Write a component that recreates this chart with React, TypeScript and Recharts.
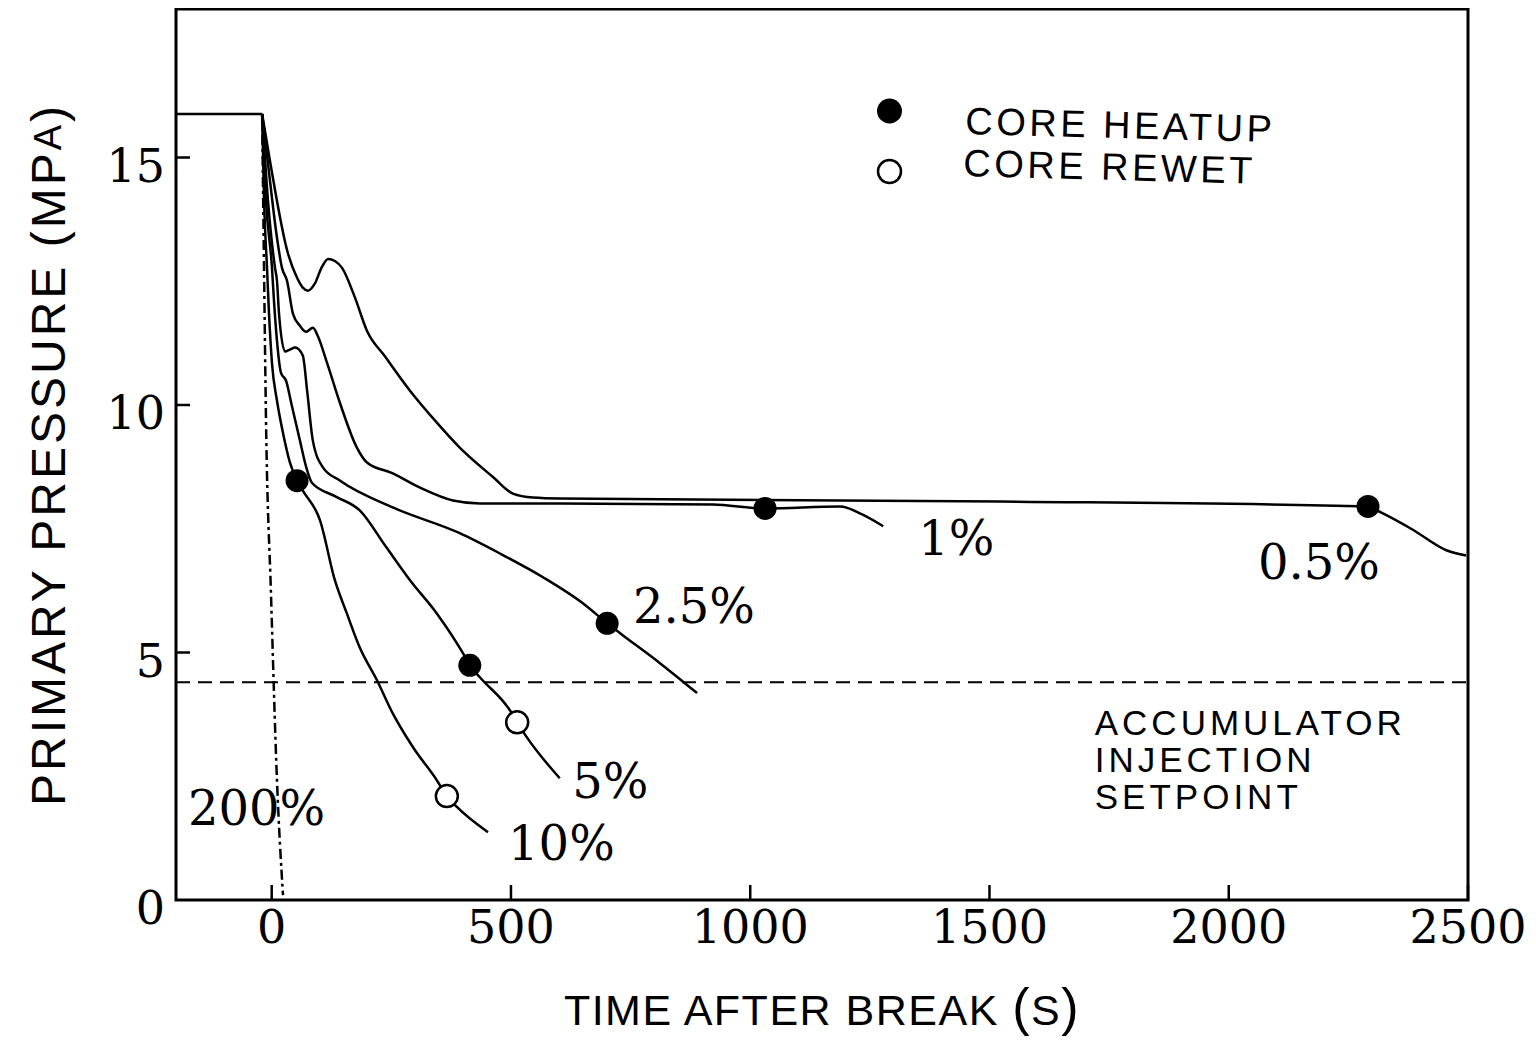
import React from 'react';
import {
  ComposedChart,
  Line,
  Scatter,
  XAxis,
  YAxis,
  Label,
  Legend,
  ReferenceArea,
  ReferenceLine,
  ReferenceDot,
} from 'recharts';

// primary pressure (MPa) against time after break (s)
const xTicks = [0, 500, 1000, 1500, 2000, 2500];
const yTicks = [0, 5, 10, 15];
const sideTicks = [5, 10, 15];

const steadyState = [
  { t: -200, p: 15.88 },
  { t: -20, p: 15.88 },
];

const break200 = [
  { t: -20, p: 15.88 },
  { t: -16, p: 12.71 },
  { t: -11.9, p: 9.69 },
  { t: -1.5, p: 6.19 },
  { t: 11, p: 2.42 },
  { t: 23.6, p: 0.1 },
];

const break10 = [
  { t: -20, p: 15.88 },
  { t: -16, p: 14.12 },
  { t: -9.8, p: 12.77 },
  { t: -5.6, p: 11.84 },
  { t: 0.6, p: 10.84 },
  { t: 11, p: 10.09 },
  { t: 25.7, p: 9.34 },
  { t: 38, p: 8.84 },
  { t: 53, p: 8.47 },
  { t: 65, p: 8.27 },
  { t: 101, p: 7.67 },
  { t: 132, p: 6.46 },
  { t: 157, p: 5.79 },
  { t: 184, p: 5.1 },
  { t: 220, p: 4.44 },
  { t: 253, p: 3.77 },
  { t: 295, p: 3.09 },
  { t: 345, p: 2.42 },
  { t: 366, p: 2.1 },
  { t: 387, p: 1.88 },
  { t: 452, p: 1.37 },
];

const break5 = [
  { t: -20, p: 15.88 },
  { t: -11.9, p: 14.12 },
  { t: 0.6, p: 12.77 },
  { t: 4.8, p: 12.1 },
  { t: 11, p: 11.3 },
  { t: 19.4, p: 10.65 },
  { t: 30, p: 10.49 },
  { t: 42, p: 9.99 },
  { t: 59, p: 9.28 },
  { t: 72, p: 8.75 },
  { t: 84, p: 8.43 },
  { t: 134, p: 8.15 },
  { t: 184, p: 7.87 },
  { t: 237, p: 7.16 },
  { t: 289, p: 6.46 },
  { t: 345, p: 5.79 },
  { t: 400, p: 4.98 },
  { t: 414, p: 4.74 },
  { t: 435, p: 4.5 },
  { t: 498, p: 3.83 },
  { t: 513, p: 3.59 },
  { t: 533, p: 3.29 },
  { t: 602, p: 2.46 },
];

const break25 = [
  { t: -20, p: 15.88 },
  { t: -7.7, p: 14.12 },
  { t: 6.9, p: 12.77 },
  { t: 11, p: 12.51 },
  { t: 15.3, p: 11.84 },
  { t: 28, p: 11.08 },
  { t: 38, p: 11.12 },
  { t: 49, p: 11.16 },
  { t: 65, p: 11.0 },
  { t: 74, p: 10.29 },
  { t: 86, p: 9.28 },
  { t: 107, p: 8.74 },
  { t: 143, p: 8.47 },
  { t: 253, p: 7.93 },
  { t: 393, p: 7.41 },
  { t: 477, p: 7.0 },
  { t: 567, p: 6.52 },
  { t: 651, p: 5.99 },
  { t: 701, p: 5.59 },
  { t: 728, p: 5.39 },
  { t: 812, p: 4.78 },
  { t: 889, p: 4.18 },
];

const break1 = [
  { t: -20, p: 15.88 },
  { t: -3.6, p: 14.53 },
  { t: 9, p: 13.52 },
  { t: 21.5, p: 12.77 },
  { t: 32, p: 12.51 },
  { t: 44.5, p: 11.84 },
  { t: 59, p: 11.6 },
  { t: 72, p: 11.48 },
  { t: 86, p: 11.56 },
  { t: 97, p: 11.38 },
  { t: 116, p: 10.84 },
  { t: 143, p: 10.03 },
  { t: 178, p: 9.14 },
  { t: 199, p: 8.84 },
  { t: 253, p: 8.62 },
  { t: 310, p: 8.33 },
  { t: 379, p: 8.07 },
  { t: 435, p: 8.01 },
  { t: 602, p: 8.01 },
  { t: 922, p: 7.99 },
  { t: 1031, p: 7.91 },
  { t: 1188, p: 7.95 },
  { t: 1234, p: 7.79 },
  { t: 1278, p: 7.55 },
];

const break05 = [
  { t: -20, p: 15.88 },
  { t: -3.6, p: 14.93 },
  { t: 34, p: 13.06 },
  { t: 53, p: 12.57 },
  { t: 65, p: 12.37 },
  { t: 76, p: 12.31 },
  { t: 90, p: 12.45 },
  { t: 105, p: 12.79 },
  { t: 118, p: 12.95 },
  { t: 132, p: 12.91 },
  { t: 147, p: 12.77 },
  { t: 174, p: 12.17 },
  { t: 199, p: 11.5 },
  { t: 237, p: 10.98 },
  { t: 289, p: 10.29 },
  { t: 341, p: 9.69 },
  { t: 393, p: 9.14 },
  { t: 463, p: 8.54 },
  { t: 504, p: 8.21 },
  { t: 546, p: 8.13 },
  { t: 602, p: 8.11 },
  { t: 1522, p: 8.05 },
  { t: 2291, p: 7.95 },
  { t: 2318, p: 7.83 },
  { t: 2383, p: 7.49 },
  { t: 2456, p: 7.06 },
  { t: 2496, p: 6.96 },
];

const coreHeatup = [
  { t: 53, p: 8.47 },
  { t: 414, p: 4.74 },
  { t: 701, p: 5.59 },
  { t: 1031, p: 7.91 },
  { t: 2291, p: 7.95 },
];

const coreRewet = [
  { t: 366, p: 2.1 },
  { t: 513, p: 3.59 },
];

const accumulatorSetpoint = 4.4;

const curveNotes = [
  { text: '200%', t: -175, p: 1.52 },
  { text: '10%', t: 494, p: 0.81 },
  { text: '5%', t: 628, p: 2.06 },
  { text: '2.5%', t: 755, p: 5.59 },
  { text: '1%', t: 1351, p: 6.97 },
  { text: '0.5%', t: 2061, p: 6.48 },
];

const setpointNote = { lines: ['ACCUMULATOR', 'INJECTION', 'SETPOINT'], t: 1720, p: 3.33 };

const SERIF = '"DejaVu Serif", serif';
const SANS = '"Liberation Sans", Arial, sans-serif';

const BottomTick = (props: any) => {
  const { x, y, payload } = props;
  return (
    <g>
      <line x1={x} y1={y} x2={x} y2={y - 15} stroke="#000" strokeWidth={2.5} />
      <text x={x} y={y + 43} textAnchor="middle" fontFamily={SERIF} fontSize={46} fill="#000">
        {payload.value}
      </text>
    </g>
  );
};

const LeftTick = (props: any) => {
  const { x, y, payload } = props;
  return (
    <g>
      {payload.value !== 0 && <line x1={x} y1={y} x2={x + 14} y2={y} stroke="#000" strokeWidth={2.5} />}
      <text x={x - 11} y={y + 24} textAnchor="end" fontFamily={SERIF} fontSize={46} fill="#000">
        {payload.value}
      </text>
    </g>
  );
};

const RightTick = (props: any) => {
  const { x, y } = props;
  return <line x1={x} y1={y} x2={x - 14} y2={y} stroke="#000" strokeWidth={2.5} />;
};

const HeatupDot = (props: any) => <circle cx={props.cx} cy={props.cy} r={11.5} fill="#000" />;
const RewetDot = (props: any) => (
  <circle cx={props.cx} cy={props.cy} r={11} fill="#fff" stroke="#000" strokeWidth={2.5} />
);

const YTitle = (props: any) => {
  const vb = props.viewBox || { x: 0, y: 0, width: 168, height: 890 };
  const cx = vb.x + 40;
  const cy = vb.y + vb.height / 2;
  return (
    <text
      x={cx}
      y={cy}
      transform={`rotate(-90 ${cx} ${cy})`}
      textAnchor="middle"
      dominantBaseline="central"
      fontFamily={SANS}
      fontSize={48}
      letterSpacing={3}
      fill="#000"
    >
      PRIMARY PRESSURE (MP<tspan fontSize={38}>A</tspan>)
    </text>
  );
};

const XTitle = (props: any) => {
  const vb = props.viewBox || { x: 168, y: 892, width: 1292, height: 140 };
  return (
    <text
      x={vb.x + vb.width / 2}
      y={vb.y + 125}
      textAnchor="middle"
      fontFamily={SANS}
      fontSize={43}
      letterSpacing={1.5}
      fill="#000"
    >
      TIME AFTER BREAK <tspan fontSize={52}>(</tspan>S<tspan fontSize={52}>)</tspan>
    </text>
  );
};

const noteLabel = (text: string) => (props: any) => {
  const vb = props.viewBox;
  if (!vb) return null;
  return (
    <text x={vb.x} y={vb.y} fontFamily={SERIF} fontSize={48} fill="#000">
      {text}
    </text>
  );
};

// one text element per line so the three lines stay tight but separate
const setpointLabel = (props: any) => {
  const vb = props.viewBox;
  if (!vb) return null;
  return (
    <g>
      {setpointNote.lines.map((s, i) => (
        <text
          key={s}
          x={vb.x}
          y={vb.y + i * 37}
          fontFamily={SANS}
          fontSize={35}
          letterSpacing={4}
          fill="#000"
        >
          {s}
        </text>
      ))}
    </g>
  );
};

const LegendBox = (props: any) => {
  const items = (props.payload || []).filter((e: any) => e.type !== 'none');
  return (
    <svg width={440} height={110} style={{ overflow: 'visible' }}>
      {items.map((e: any, i: number) => {
        const filled = e.color === '#000';
        const cy = 23 + i * 60.5;
        const tx = 97 - i * 2;
        const ty = 46 + i * 42;
        return (
          <g key={e.value}>
            {filled ? (
              <circle cx={21.5} cy={cy} r={12.5} fill="#000" />
            ) : (
              <circle cx={21.5} cy={cy} r={11.5} fill="#fff" stroke="#000" strokeWidth={2.5} />
            )}
            <text
              x={tx}
              y={ty}
              transform={`rotate(1.5 ${tx} ${ty})`}
              fontFamily={SANS}
              fontSize={38}
              letterSpacing={3.5}
              fill="#000"
            >
              {e.value}
            </text>
          </g>
        );
      })}
    </svg>
  );
};

const curve = { stroke: '#000', strokeWidth: 2.5, dot: false, isAnimationActive: false, legendType: 'none' as const };

export default function App() {
  return (
    <div style={{ width: 1520, height: 1032 }}>
      <ComposedChart width={1520} height={1032} margin={{ top: 1, right: 0, bottom: 0, left: 0 }}>
        <XAxis
          dataKey="t"
          type="number"
          domain={[-200, 2500]}
          ticks={xTicks}
          interval={0}
          allowDataOverflow
          axisLine={false}
          tickLine={false}
          tickSize={0}
          tickMargin={0}
          height={140}
          tick={BottomTick}
        >
          <Label content={XTitle} />
        </XAxis>
        <YAxis
          dataKey="p"
          type="number"
          domain={[0, 18]}
          ticks={yTicks}
          interval={0}
          allowDataOverflow
          axisLine={false}
          tickLine={false}
          tickSize={0}
          tickMargin={0}
          width={168}
          tick={LeftTick}
        >
          <Label content={YTitle} />
        </YAxis>
        <YAxis
          yAxisId="right"
          orientation="right"
          dataKey="p"
          type="number"
          domain={[0, 18]}
          ticks={sideTicks}
          interval={0}
          axisLine={false}
          tickLine={false}
          tickSize={0}
          tickMargin={0}
          width={60}
          tick={RightTick}
        />

        <ReferenceArea x1={-200} x2={2500} y1={0} y2={18} fill="none" fillOpacity={0} stroke="#000" strokeWidth={3} />
        <ReferenceLine y={accumulatorSetpoint} stroke="#000" strokeWidth={2} strokeDasharray="14 8" />

        <Line data={steadyState} dataKey="p" type="linear" name="steady" {...curve} />
        <Line data={break200} dataKey="p" type="monotone" name="200%" {...curve} strokeDasharray="10 4 3 4" />
        <Line data={break10} dataKey="p" type="monotone" name="10%" {...curve} />
        <Line data={break5} dataKey="p" type="monotone" name="5%" {...curve} />
        <Line data={break25} dataKey="p" type="monotone" name="2.5%" {...curve} />
        <Line data={break1} dataKey="p" type="monotone" name="1%" {...curve} />
        <Line data={break05} dataKey="p" type="monotone" name="0.5%" {...curve} />

        <Scatter data={coreHeatup} dataKey="p" name="CORE HEATUP" fill="#000" shape={HeatupDot} isAnimationActive={false} />
        <Scatter data={coreRewet} dataKey="p" name="CORE REWET" fill="#fff" shape={RewetDot} isAnimationActive={false} />

        {curveNotes.map((n) => (
          <ReferenceDot key={n.text} x={n.t} y={n.p} r={0} fill="none" stroke="none" label={noteLabel(n.text)} />
        ))}
        <ReferenceDot x={setpointNote.t} y={setpointNote.p} r={0} fill="none" stroke="none" label={setpointLabel} />

        <Legend
          layout="vertical"
          align="center"
          verticalAlign="middle"
          content={LegendBox}
          wrapperStyle={{ left: 860, top: 80, width: 440, height: 110 }}
        />
      </ComposedChart>
    </div>
  );
}
